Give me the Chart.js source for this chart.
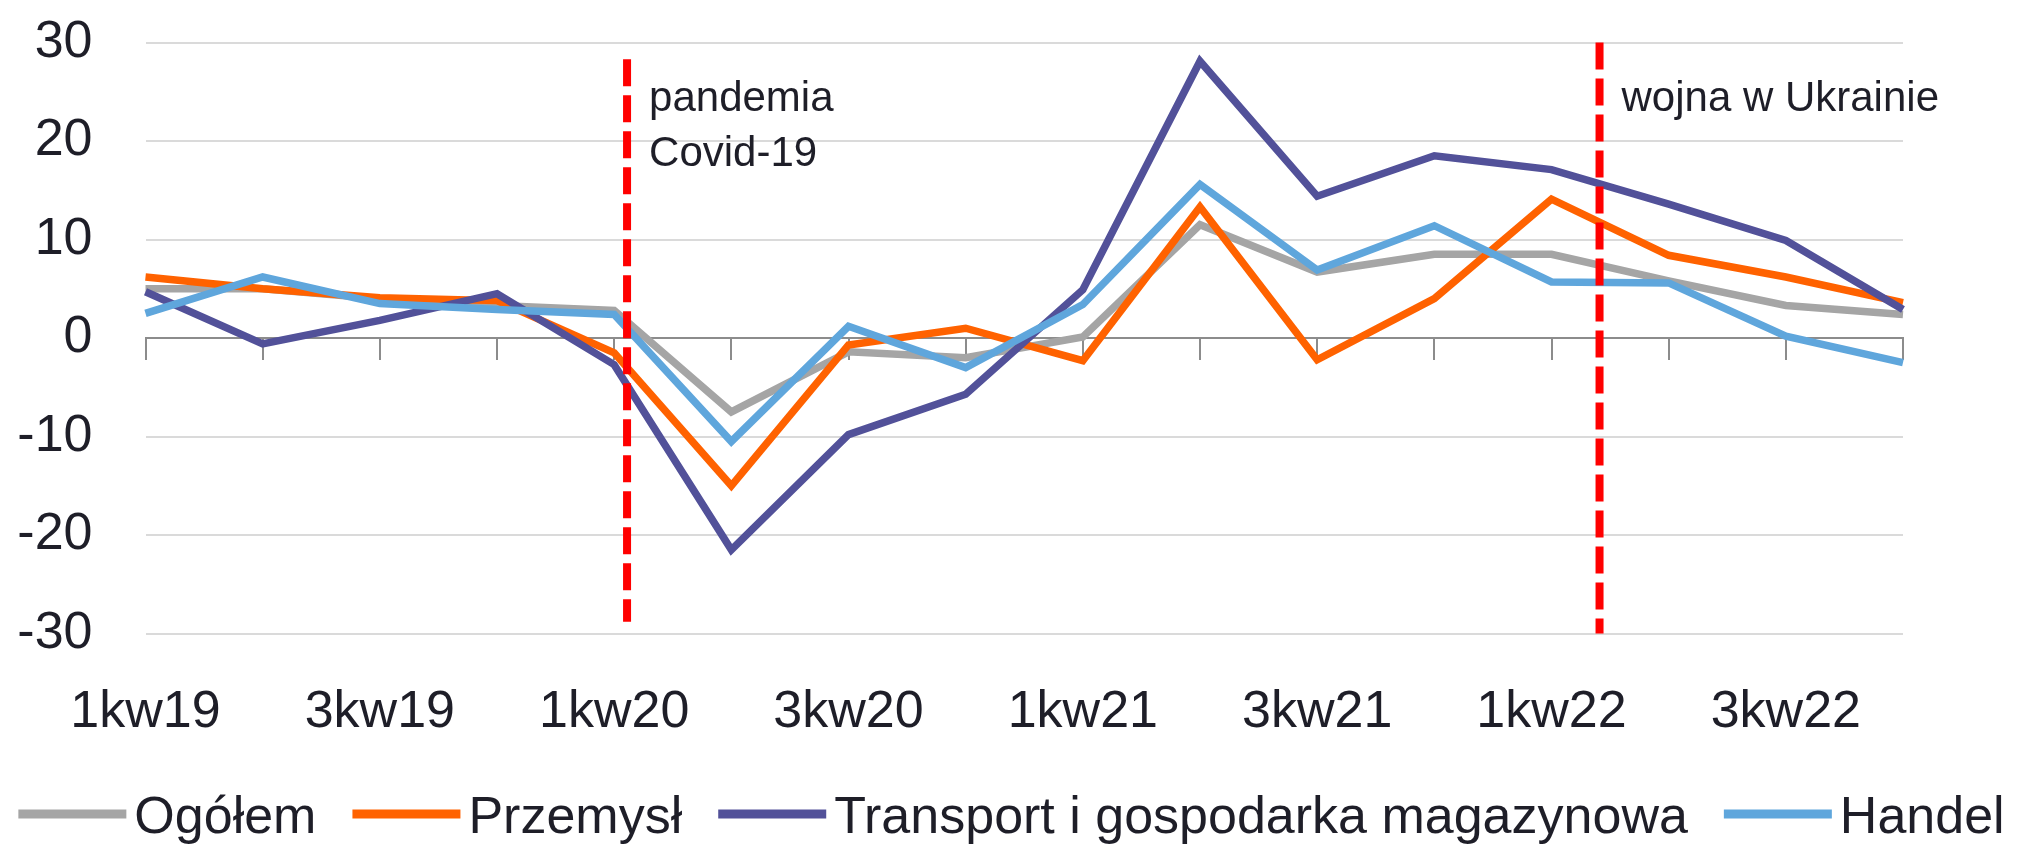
<!DOCTYPE html>
<html>
<head>
<meta charset="utf-8">
<script src="https://cdn.jsdelivr.net/npm/chart.js@4.4.0/dist/chart.umd.min.js"></script>
<style>
  html, body { margin: 0; padding: 0; background: #fff; }
  #wrap { width: 2023px; height: 846px; }
</style>
</head>
<body>
<div id="wrap"><canvas id="chart"></canvas></div>
<script>
const quarters = ['1kw19', '2kw19', '3kw19', '4kw19', '1kw20', '2kw20', '3kw20', '4kw20',
                  '1kw21', '2kw21', '3kw21', '4kw21', '1kw22', '2kw22', '3kw22', '4kw22'];

const ogolem    = [5.0, 5.0, 4.0, 3.3, 2.8, -7.5, -1.4, -2.0, 0.1, 11.5, 6.7, 8.5, 8.5, 5.8, 3.3, 2.4];
const przemysl  = [6.2, 5.0, 4.1, 3.8, -1.5, -15.0, -0.7, 1.0, -2.3, 13.3, -2.2, 4.0, 14.1, 8.4, 6.2, 3.6];
const transport = [4.7, -0.6, 1.8, 4.5, -2.7, -21.5, -9.8, -5.7, 4.9, 28.1, 14.4, 18.5, 17.1, 13.6, 9.9, 2.9];
const handel    = [2.5, 6.2, 3.5, 2.9, 2.4, -10.5, 1.2, -3.0, 3.4, 15.6, 6.9, 11.4, 5.7, 5.6, 0.2, -2.5];

const seriesNames  = ['Ogółem', 'Przemysł', 'Transport i gospodarka magazynowa', 'Handel'];
const seriesColors = ['#a5a5a5', '#ff6200', '#525199', '#5fa6dc'];

const yMin = -30, yMax = 30, yStep = 10;

// event markers (position as category index, vertical extent in y units)
const eventAt     = [4.11, 12.41];
const eventFrom   = [28.3, 30];
const eventTo     = [-28.8, -30];
const eventText   = [['pandemia', 'Covid-19'], ['wojna w Ukrainie']];
const eventTextY  = 23;

const FONT = '"Liberation Sans", Arial, sans-serif';

const eventLines = {
    id: 'eventLines',
    afterDatasetsDraw(chart) {
        const { ctx, scales: { x, y } } = chart;
        ctx.save();
        ctx.strokeStyle = '#ff0000';
        ctx.lineWidth = 8;
        ctx.setLineDash([27, 9]);
        eventAt.forEach((v, i) => {
            const px = x.getPixelForValue(v);
            ctx.beginPath();
            ctx.moveTo(px, y.getPixelForValue(eventFrom[i]));
            ctx.lineTo(px, y.getPixelForValue(eventTo[i]));
            ctx.stroke();
        });
        ctx.setLineDash([]);
        ctx.fillStyle = '#1e1e28';
        ctx.font = '42px ' + FONT;
        ctx.textAlign = 'left';
        ctx.textBaseline = 'alphabetic';
        eventAt.forEach((v, i) => {
            const px = x.getPixelForValue(v) + 22;
            const py = y.getPixelForValue(eventTextY);
            eventText[i].forEach((t, k) => ctx.fillText(t, px, py + k * 55));
        });
        ctx.restore();
    }
};

// legend drawn as line samples with tight spacing
const lineLegend = {
    id: 'lineLegend',
    afterDraw(chart) {
        const ctx = chart.ctx;
        ctx.save();
        ctx.font = '52px ' + FONT;
        const lineW = 108, gapText = 8, gapItem = 36;
        const items = chart.data.datasets.map(ds => ({
            text: ds.label, color: ds.borderColor, w: ctx.measureText(ds.label).width
        }));
        const total = items.reduce((s, it) => s + lineW + gapText + it.w, 0) + gapItem * (items.length - 1);
        let xPos = (chart.width - total) / 2;
        const lineY = chart.height - 32;
        const textY = chart.height - 13;
        items.forEach(it => {
            ctx.strokeStyle = it.color;
            ctx.lineWidth = 9;
            ctx.beginPath();
            ctx.moveTo(xPos, lineY);
            ctx.lineTo(xPos + lineW, lineY);
            ctx.stroke();
            ctx.fillStyle = '#1e1e28';
            ctx.textBaseline = 'alphabetic';
            ctx.fillText(it.text, xPos + lineW + gapText, textY);
            xPos += lineW + gapText + it.w + gapItem;
        });
        ctx.restore();
    }
};

const seriesData = [ogolem, przemysl, transport, handel];

const config = {
    type: 'line',
    data: {
        labels: quarters,
        datasets: seriesData.map((d, i) => ({
            label: seriesNames[i],
            data: d,
            borderColor: seriesColors[i],
            backgroundColor: seriesColors[i],
            borderWidth: 7.5,
            pointRadius: 0,
            tension: 0,
            order: seriesData.length - i
        }))
    },
    options: {
        responsive: true,
        maintainAspectRatio: false,
        animation: false,
        layout: { padding: { top: 42.5, right: 120, bottom: 54, left: 0 } },
        plugins: {
            legend: { display: false },
            tooltip: { enabled: false }
        },
        scales: {
            x: {
                type: 'category',
                position: 'bottom',
                grid: { display: false, drawTicks: false },
                border: { display: false },
                ticks: {
                    autoSkip: false,
                    maxRotation: 0,
                    minRotation: 0,
                    padding: 48,
                    color: '#1e1e28',
                    font: { family: FONT, size: 52 },
                    callback: (v, i) => (i % 2 === 0 ? quarters[i] : '')
                }
            },
            xZero: {
                type: 'category',
                axis: 'x',
                position: { y: 0 },
                grid: { drawOnChartArea: false, drawTicks: true, tickLength: 21, color: '#8c8c8c', lineWidth: 2 },
                border: { display: true, color: '#8c8c8c', width: 2 },
                ticks: { display: false }
            },
            y: {
                min: yMin,
                max: yMax,
                grid: {
                    drawTicks: false,
                    color: ctx => (ctx.tick.value === 0 ? 'rgba(0,0,0,0)' : '#dadada'),
                    lineWidth: 2
                },
                border: { display: false },
                ticks: {
                    stepSize: yStep,
                    padding: 53,
                    color: '#1e1e28',
                    font: { family: FONT, size: 52 }
                },
                afterFit(scale) {
                    scale.width = 145.5;
                    scale.paddingTop = 0;
                    scale.paddingBottom = 0;
                }
            }
        }
    },
    plugins: [eventLines, lineLegend]
};

new Chart(document.getElementById('chart').getContext('2d'), config);
</script>
</body>
</html>
